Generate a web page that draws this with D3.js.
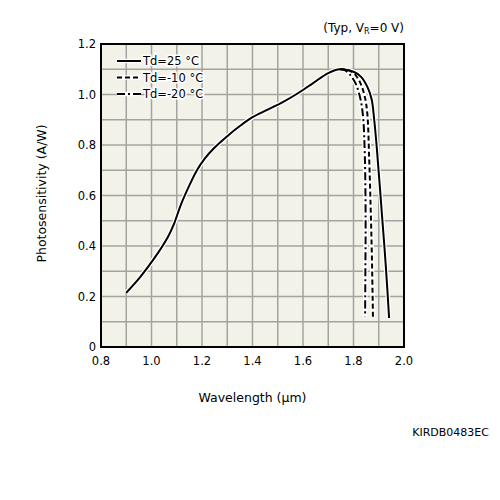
<!DOCTYPE html>
<html>
<head>
<meta charset="utf-8">
<script src="https://cdn.jsdelivr.net/npm/d3@7"></script>
<style>
  body { margin: 0; background: #fff; }
  text { font-family: Verdana, "DejaVu Sans", sans-serif; fill: #000; }
</style>
</head>
<body>
<div id="chart"></div>
<script>
// Data
const xTicks = [0.8, 1.0, 1.2, 1.4, 1.6, 1.8, 2.0];
const yTicks = [0, 0.2, 0.4, 0.6, 0.8, 1.0, 1.2];

const wl25 = [0.90, 0.955, 1.01, 1.065, 1.09, 1.115, 1.15, 1.18, 1.21, 1.25, 1.30, 1.35, 1.40, 1.46, 1.52, 1.58, 1.64, 1.70, 1.747, 1.80, 1.83, 1.855, 1.872, 1.882, 1.893, 1.913, 1.928, 1.941];
const ps25 = [0.215, 0.277, 0.35, 0.436, 0.49, 0.56, 0.64, 0.70, 0.745, 0.79, 0.835, 0.875, 0.91, 0.94, 0.97, 1.005, 1.045, 1.085, 1.10, 1.09, 1.07, 1.03, 0.98, 0.90, 0.78, 0.52, 0.32, 0.115];

const wl10 = [1.747, 1.775, 1.80, 1.825, 1.845, 1.855, 1.862, 1.868, 1.873, 1.877];
const ps10 = [1.10, 1.098, 1.085, 1.05, 0.99, 0.92, 0.75, 0.55, 0.35, 0.12];

const wl20 = [1.747, 1.765, 1.785, 1.81, 1.828, 1.838, 1.845, 1.848, 1.847, 1.846];
const ps20 = [1.10, 1.097, 1.08, 1.04, 0.98, 0.91, 0.75, 0.50, 0.30, 0.12];

const seriesNames = ["Td=25 °C", "Td=-10 °C", "Td=-20 °C"];
const seriesDash = [null, "5,3", "8,3,2,3"];

const series = [
  { name: seriesNames[0], dash: seriesDash[0], pts: wl25.map((w, i) => [w, ps25[i]]) },
  { name: seriesNames[1], dash: seriesDash[1], pts: wl10.map((w, i) => [w, ps10[i]]) },
  { name: seriesNames[2], dash: seriesDash[2], pts: wl20.map((w, i) => [w, ps20[i]]) }
];

// Layout
const margin = { top: 44, right: 96, bottom: 153, left: 101 };
const width = 500 - margin.left - margin.right;
const height = 500 - margin.top - margin.bottom;

const svg = d3.select("#chart")
  .append("svg")
  .attr("width", 500)
  .attr("height", 500)
  .append("g")
  .attr("transform", `translate(${margin.left},${margin.top})`);

const x = d3.scaleLinear().domain([0.8, 2.0]).range([0, width]);
const y = d3.scaleLinear().domain([0, 1.2]).range([height, 0]);

// plot background
svg.append("rect")
  .attr("width", width)
  .attr("height", height)
  .attr("fill", "#f3f2e9");

// grid every 0.1
const gridX = d3.range(1, 12).map(i => 0.8 + i * 0.1);
const gridY = d3.range(1, 12).map(i => i * 0.1);

svg.append("g")
  .selectAll("line")
  .data(gridX)
  .enter()
  .append("line")
  .attr("x1", d => x(d)).attr("x2", d => x(d))
  .attr("y1", 0).attr("y2", height)
  .attr("stroke", "#a3a3a0")
  .attr("stroke-width", 1.5);

svg.append("g")
  .selectAll("line")
  .data(gridY)
  .enter()
  .append("line")
  .attr("x1", 0).attr("x2", width)
  .attr("y1", d => y(d)).attr("y2", d => y(d))
  .attr("stroke", "#a3a3a0")
  .attr("stroke-width", 1.5);

// curves
const line = d3.line()
  .x(d => x(d[0]))
  .y(d => y(d[1]))
  .curve(d3.curveCatmullRom.alpha(0.5));

series.forEach(s => {
  svg.append("path")
    .datum(s.pts)
    .attr("d", line)
    .attr("fill", "none")
    .attr("stroke", "#fff")
    .attr("stroke-width", 4.5);
});
series.forEach(s => {
  svg.append("path")
    .datum(s.pts)
    .attr("d", line)
    .attr("fill", "none")
    .attr("stroke", "#000")
    .attr("stroke-width", 2)
    .attr("stroke-dasharray", s.dash);
});

// frame
svg.append("rect")
  .attr("width", width)
  .attr("height", height)
  .attr("fill", "none")
  .attr("stroke", "#000")
  .attr("stroke-width", 2);

// axes labels (ticks)
const tickFont = 11.5;
svg.append("g")
  .selectAll("text")
  .data(xTicks)
  .enter()
  .append("text")
  .attr("x", d => x(d))
  .attr("y", height + 18)
  .attr("text-anchor", "middle")
  .style("font-size", tickFont + "px")
  .text(d => d.toFixed(1));

svg.append("g")
  .selectAll("text")
  .data(yTicks)
  .enter()
  .append("text")
  .attr("x", -5)
  .attr("y", d => y(d) + 4)
  .attr("text-anchor", "end")
  .style("font-size", tickFont + "px")
  .text(d => d === 0 ? "0" : d.toFixed(1));

// axis titles
svg.append("text")
  .attr("x", width / 2)
  .attr("y", height + 55)
  .attr("text-anchor", "middle")
  .style("font-size", "12.5px")
  .text("Wavelength (μm)");

svg.append("text")
  .attr("transform", `translate(-55,${height / 2 - 2}) rotate(-90)`)
  .attr("text-anchor", "middle")
  .style("font-size", "12.5px")
  .text("Photosensitivity (A/W)");

// condition note
const note = svg.append("text")
  .attr("x", width)
  .attr("y", -12)
  .attr("text-anchor", "end")
  .style("font-size", "12px");
note.append("tspan").text("(Typ, V");
note.append("tspan").attr("dy", 2).style("font-size", "8px").text("R");
note.append("tspan").attr("dy", -2).text("=0 V)");

// legend
const legend = svg.append("g").attr("transform", "translate(16,17)");
series.forEach((s, i) => {
  const g = legend.append("g").attr("transform", `translate(0,${i * 16.5})`);
  g.append("line")
    .attr("x1", 0).attr("x2", 24)
    .attr("y1", 0).attr("y2", 0)
    .attr("stroke", "#fff").attr("stroke-width", 4.5);
  g.append("line")
    .attr("x1", 0).attr("x2", 24)
    .attr("y1", 0).attr("y2", 0)
    .attr("stroke", "#000").attr("stroke-width", 2)
    .attr("stroke-dasharray", s.dash);
  g.append("text")
    .attr("x", 26)
    .attr("y", 4)
    .style("font-size", "11.5px")
    .attr("stroke", "#fff")
    .attr("stroke-width", 3)
    .attr("paint-order", "stroke")
    .text(s.name);
});

// figure code
svg.append("text")
  .attr("x", 388)
  .attr("y", 392)
  .attr("text-anchor", "end")
  .style("font-size", "11px")
  .text("KIRDB0483EC");
</script>
</body>
</html>
